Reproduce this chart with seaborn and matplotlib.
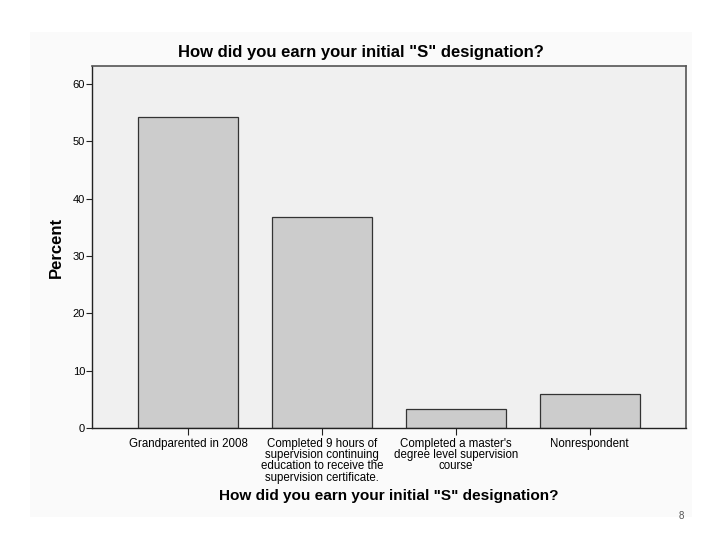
import matplotlib
matplotlib.use("Agg")
import matplotlib.pyplot as plt
import seaborn as sns
import pandas as pd
from matplotlib.patches import Rectangle

# Data
categories = [
    "Grandparented in 2008",
    "Completed 9 hours of\nsupervision continuing\neducation to receive the\nsupervision certificate.",
    "Completed a master's\ndegree level supervision\ncourse",
    "Nonrespondent",
]
percent = [54.2, 36.8, 3.3, 5.9]
y_ticks = [0, 10, 20, 30, 40, 50, 60]

df = pd.DataFrame({"answer": categories, "Percent": percent})

sns.set_theme(style="white")
plt.rcParams["font.family"] = ["Liberation Sans", "DejaVu Sans"]
plt.rcParams["text.color"] = "black"
plt.rcParams["axes.labelcolor"] = "black"
plt.rcParams["xtick.color"] = "black"
plt.rcParams["ytick.color"] = "black"

fig = plt.figure(figsize=(7.2, 5.4), dpi=100)
fig.patch.set_facecolor("white")

# faint chart region behind the plot
fig.patches.append(Rectangle((30 / 720, 1 - 517 / 540), 662 / 720, 485 / 540,
                             transform=fig.transFigure, facecolor="#fafafa",
                             edgecolor="none", zorder=-10))

ax = fig.add_axes([92 / 720, 1 - 428 / 540, 594 / 720, 362 / 540])
ax.set_facecolor("#f0f0f0")

sns.barplot(ax=ax, data=df, x="answer", y="Percent", color="#cccccc",
            edgecolor="#333333", linewidth=0.9, width=0.75, saturation=1)

ax.set_xlim(-0.72, 3.72)
ax.set_ylim(0, 63.1)
ax.set_yticks(y_ticks)
ax.tick_params(axis="y", direction="out", length=4, width=0.8, color="#222222",
               labelsize=8, pad=1, left=True)
ax.tick_params(axis="x", direction="out", length=5, width=0.8, color="#222222",
               labelsize=8.3, pad=2, bottom=True)
for lab in ax.get_xticklabels():
    lab.set_multialignment("center")
    lab.set_linespacing(0.92)

for side in ["left", "bottom"]:
    ax.spines[side].set_color("#222222")
    ax.spines[side].set_linewidth(1.0)
for side in ["top", "right"]:
    ax.spines[side].set_color("#555555")
    ax.spines[side].set_linewidth(1.2)

ax.set_ylabel("Percent", fontsize=12, fontweight="bold", labelpad=6)
ax.set_xlabel('How did you earn your initial "S" designation?', fontsize=11.1,
              fontweight="bold", labelpad=4)

fig.text(361 / 720, 1 - 52 / 540, 'How did you earn your initial "S" designation?',
         ha="center", va="center", fontsize=12, fontweight="bold")
fig.text(681 / 720, 1 - 516 / 540, "8", ha="center", va="center", fontsize=7,
         color="#555555")

fig.savefig("out.png", dpi=100)
